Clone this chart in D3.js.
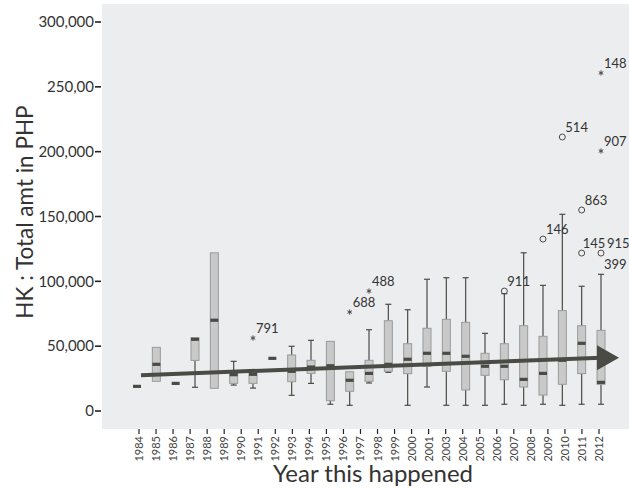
<!DOCTYPE html>
<html><head><meta charset="utf-8">
<script src="https://cdn.jsdelivr.net/npm/d3@7"></script>
<style>body{margin:0;background:#fff}svg{display:block}text{font-family:Lato,"Open Sans",sans-serif}</style>
</head><body><svg id="c" width="629" height="490"></svg>
<script>
// Tick labels on the x axis (as printed)
const xLabels = ["1984","1985","1986","1987","1988","1989","1990","1991","1992","1993","1994","1995","1996","1997","1998","1999","2000","2001","2003","2004","2005","2006","2007","2008","2009","2010","2011","2012"];
// Box groups (drawn on their own band)
const groups = ["1984","1985","1986","1987","1988","1990","1991","1992","1993","1994","1995","1996","1998","1999","2000","2001","2003","2004","2005","2006","2007","2008","2009","2010","2011"];
// Box statistics, thousands of PHP
const whiskerLow = [19,22.9,21.3,18.3,17.5,20,17.7,40.6,12.1,21.3,5.2,4.4,21.6,29.8,4.4,18.5,4.4,4.4,4.4,5.2,4.4,5.2,4.4,5.2,5.2];
const q1 =         [19,22.9,21.3,39,17.5,21.3,21.3,40.6,22.6,29,7.9,15.2,22.9,30.6,28.8,34.5,30.6,16.2,27.5,24.1,18.5,12.3,20.6,28.8,20.6];
const median =     [19,36,21.3,55.3,70,28,28.3,40.6,30.6,33.9,34.9,23.7,29,36,39.9,44.5,44.5,42.2,34.5,34.5,24.4,29,39.1,52.2,22.1];
const q3 =         [19,49.1,21.3,56.5,122,29,29.5,40.6,43.2,39.1,53.7,30.3,39.1,69.6,51.9,63.8,70.7,68.4,44.5,51.9,65.8,57.6,77.4,65.8,62.2];
const whiskerHigh= [19,49.1,21.3,56.5,122,38.3,29.5,40.6,49.9,54.5,53.7,30.3,62.7,82.3,78.1,101.6,102.8,102.8,59.9,90.5,122,96.9,151.7,96.2,105.4];
// Outliers
const outGroup = ["1991","1996","1998","2006","2008","2009","2010","2010","2011","2011","2011"];
const outValue = [56.3,76.3,92.5,92.5,132.6,211.3,155,121.8,121.8,200.5,260.7];
const outType  = ["star","star","star","circle","circle","circle","circle","circle","circle","star","star"];
const outLabel = ["791","688","488","911","146","514","863","145","915","907","148"];
// Y tick values and labels
const yTicks = [0,50,100,150,200,250,300];
const yTickLabels = ["0","50,000","100,000","150,000","200,000","250,00","300,000"];
// Trend line (start, end) in thousands
const trend = [27.6, 41];

const svg = d3.select("#c");
const plot = {left:102, right:629, top:4, bottom:429};
const dark = "#4b4b45";

svg.append("rect").attr("x",plot.left).attr("y",plot.top)
  .attr("width",plot.right-plot.left).attr("height",plot.bottom-plot.top).attr("fill","#ecedef");

const y = d3.scaleLinear().domain([0,300]).range([411,22]);
const xBox = d3.scalePoint().domain(groups).range([137,601]);
const xLab = d3.scalePoint().domain(xLabels).range([139,599]);

// y axis
const yAxis = svg.append("g");
yTicks.forEach((t,i)=>{
  yAxis.append("line").attr("x1",95).attr("x2",101).attr("y1",y(t)).attr("y2",y(t)).attr("stroke","#222").attr("stroke-width",1.6);
  yAxis.append("text").attr("x",94).attr("y",y(t)).attr("dy","0.35em").attr("text-anchor","end")
    .attr("font-size",15).attr("fill","#333").text(yTickLabels[i]);
});
// x axis
const xAxis = svg.append("g");
xLabels.forEach(l=>{
  const xx = xLab(l);
  xAxis.append("line").attr("x1",xx).attr("x2",xx).attr("y1",429).attr("y2",434).attr("stroke","#222").attr("stroke-width",1.2);
  xAxis.append("text").attr("transform",`translate(${xx+4},436) rotate(-90)`).attr("text-anchor","end")
    .attr("font-size",11).attr("fill","#444").text(l);
});

// titles
svg.append("text").attr("transform","translate(33,212) rotate(-90)").attr("text-anchor","middle")
  .attr("font-size",22.5).attr("fill","#333").text("HK : Total amt in PHP");
svg.append("text").attr("x",373).attr("y",482).attr("text-anchor","middle")
  .attr("font-size",24).attr("fill","#333").text("Year this happened");

// boxes
const bw = 8, cw = 6;
const boxes = svg.append("g");
groups.forEach((g,i)=>{
  const cx = xBox(g);
  const lo=whiskerLow[i], a=q1[i], m=median[i], b=q3[i], hi=whiskerHigh[i];
  if (hi > b) {
    boxes.append("line").attr("x1",cx).attr("x2",cx).attr("y1",y(hi)).attr("y2",y(b)).attr("stroke",dark).attr("stroke-width",1.2);
    boxes.append("line").attr("x1",cx-cw/2).attr("x2",cx+cw/2).attr("y1",y(hi)).attr("y2",y(hi)).attr("stroke",dark).attr("stroke-width",1.2);
  }
  if (lo < a) {
    boxes.append("line").attr("x1",cx).attr("x2",cx).attr("y1",y(a)).attr("y2",y(lo)).attr("stroke",dark).attr("stroke-width",1.2);
    boxes.append("line").attr("x1",cx-cw/2).attr("x2",cx+cw/2).attr("y1",y(lo)).attr("y2",y(lo)).attr("stroke",dark).attr("stroke-width",1.2);
  }
  if (b > a) {
    boxes.append("rect").attr("x",cx-bw/2).attr("y",y(b)).attr("width",bw).attr("height",y(a)-y(b))
      .attr("fill","#c9c9c9").attr("stroke","#9a9a9a").attr("stroke-width",1);
  }
  boxes.append("rect").attr("x",cx-bw/2).attr("y",y(m)-1.6).attr("width",bw).attr("height",3.2).attr("fill",dark);
});

// trend line with arrow
const x0 = xBox(groups[0])+4, x1 = xBox(groups[groups.length-1]);
svg.append("line").attr("x1",x0).attr("y1",y(trend[0])).attr("x2",x1).attr("y2",y(trend[1]))
  .attr("stroke",dark).attr("stroke-width",4);
const ay = y(trend[1]);
svg.append("path").attr("d",`M${x1-4},${ay-12.5}L${x1+18},${ay}L${x1-4},${ay+12.5}Z`).attr("fill",dark);

// outliers
const outs = svg.append("g");
outGroup.forEach((g,i)=>{
  const cx = xBox(g), cy = y(outValue[i]);
  if (outType[i]==="circle") {
    outs.append("circle").attr("cx",cx).attr("cy",cy).attr("r",3).attr("fill","none").attr("stroke",dark).attr("stroke-width",1);
  } else {
    const r=2.6;
    const p = d3.path();
    for (let k=0;k<3;k++){const an=Math.PI/2+k*Math.PI/3;p.moveTo(cx+r*Math.cos(an),cy+r*Math.sin(an));p.lineTo(cx-r*Math.cos(an),cy-r*Math.sin(an));}
    outs.append("path").attr("d",p.toString()).attr("stroke",dark).attr("stroke-width",1);
  }
  let dx = 3, dy = -5;
  if (outLabel[i]==="915") dx = 6;
  if (outLabel[i]==="145") dx = 1;
  outs.append("text").attr("x",cx+dx).attr("y",cy+dy).attr("font-size",13).attr("fill","#333").text(outLabel[i]);
  if (outLabel[i]==="915") outs.append("text").attr("x",cx+3).attr("y",cy+16).attr("font-size",13).attr("fill","#333").text("399");
});
</script></body></html>
